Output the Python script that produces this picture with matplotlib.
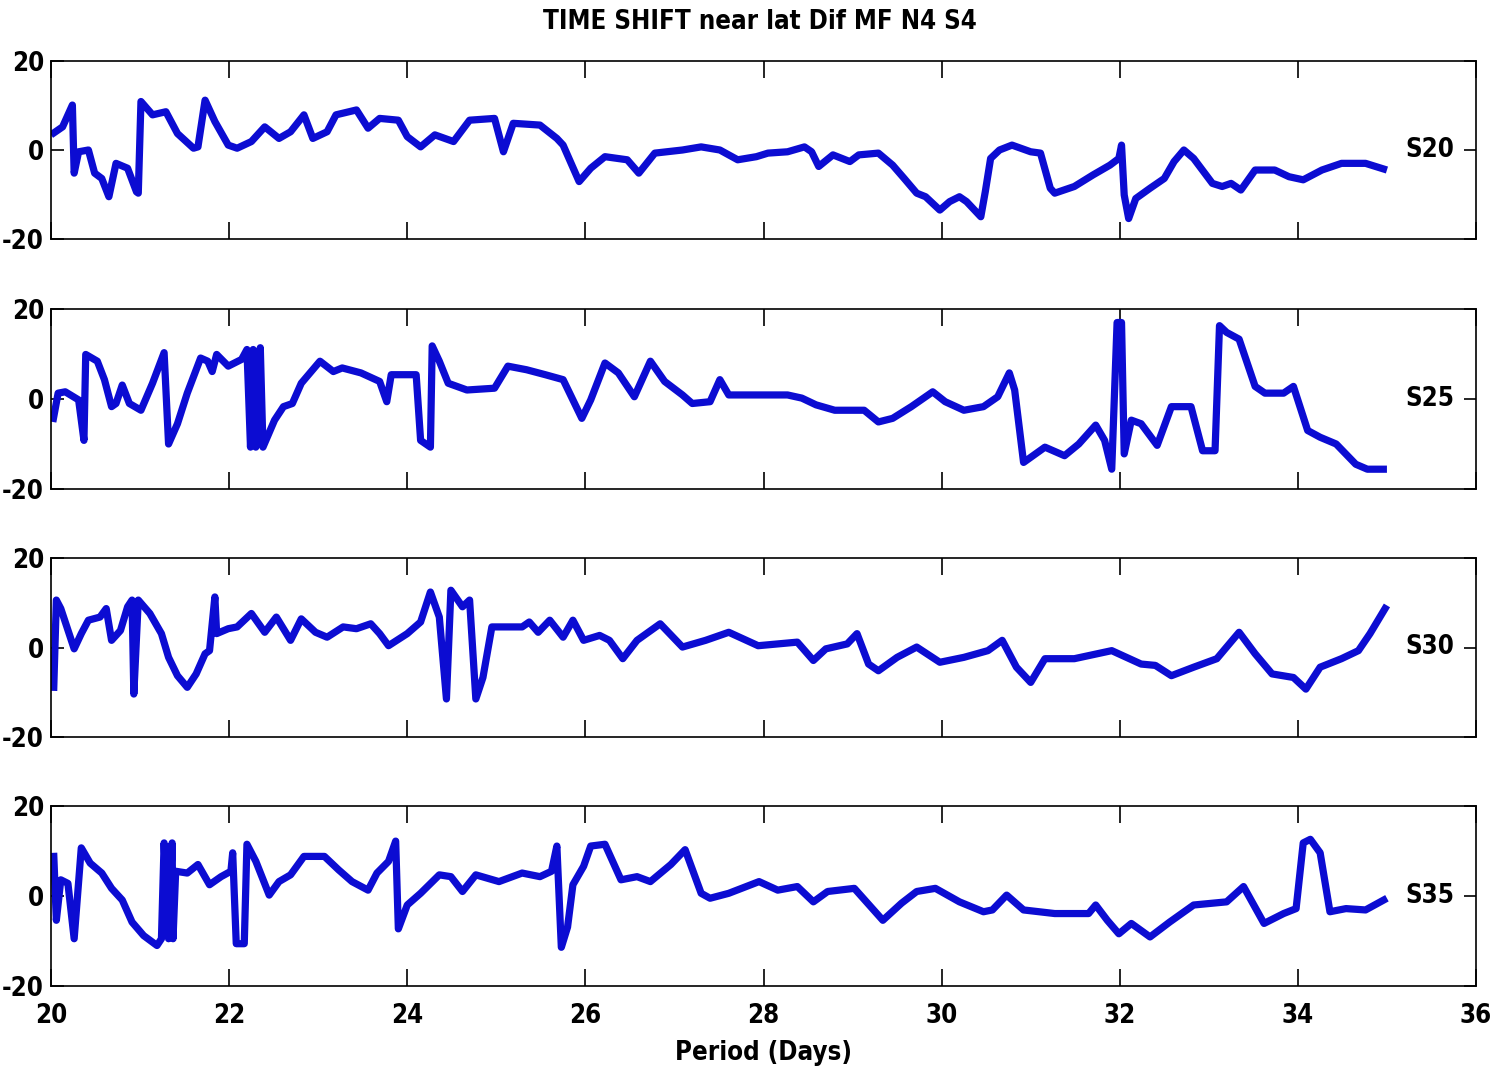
import matplotlib
matplotlib.use("Agg")
import matplotlib.pyplot as plt

# ---------------- data ----------------
s20_x = [20.0, 20.13, 20.24, 20.26, 20.31, 20.42, 20.49, 20.57, 20.65, 20.73, 20.86, 20.96, 20.98, 21.01,
         21.14, 21.29, 21.42, 21.60, 21.65, 21.73, 21.84, 21.99, 22.09, 22.25, 22.40, 22.56, 22.69, 22.84,
         22.94, 23.10, 23.20, 23.43, 23.56, 23.69, 23.90, 24.00, 24.15, 24.31, 24.52, 24.70, 24.98, 25.08,
         25.19, 25.49, 25.68, 25.75, 25.93, 26.06, 26.22, 26.47, 26.60, 26.78, 27.09, 27.30, 27.51, 27.71,
         27.92, 28.05, 28.27, 28.46, 28.54, 28.62, 28.78, 28.97, 29.07, 29.29, 29.45, 29.58, 29.72, 29.82,
         29.98, 30.09, 30.20, 30.28, 30.44, 30.49, 30.55, 30.65, 30.79, 31.00, 31.11, 31.22, 31.27, 31.49,
         31.70, 31.89, 31.99, 32.02, 32.05, 32.10, 32.18, 32.34, 32.50, 32.61, 32.72, 32.83, 33.04, 33.15,
         33.25, 33.36, 33.52, 33.74, 33.90, 34.06, 34.27, 34.49, 34.76, 35.00]
s20_y = [3.4, 5.2, 10.1, -5.2, -0.4, 0.0, -5.2, -6.4, -10.5, -3.0, -4.1, -9.4, -9.7, 10.9,
         7.9, 8.6, 3.7, 0.4, 0.7, 11.2, 6.4, 1.1, 0.4, 1.9, 5.2, 2.6, 4.1, 7.9,
         2.6, 4.1, 7.9, 9.0, 4.9, 7.1, 6.7, 3.0, 0.7, 3.4, 1.9, 6.7, 7.1, -0.4,
         6.0, 5.6, 2.6, 1.1, -7.1, -4.1, -1.5, -2.2, -5.2, -0.7, 0.0, 0.7, 0.0, -2.2,
         -1.5, -0.7, -0.4, 0.7, -0.4, -3.7, -1.1, -2.6, -1.1, -0.7, -3.4, -6.4, -9.7, -10.5,
         -13.5, -11.6, -10.5, -11.6, -15.0, -9.4, -1.9, 0.0, 1.1, -0.4, -0.7, -8.6, -9.7, -8.2,
         -5.6, -3.4, -1.9, 1.1, -10.1, -15.4, -10.9, -8.6, -6.4, -2.6, 0.0, -1.9, -7.5, -8.2,
         -7.5, -9.0, -4.5, -4.5, -6.0, -6.7, -4.5, -3.0, -3.0, -4.5]

s25_x = [20.02, 20.08, 20.16, 20.31, 20.37, 20.39, 20.52, 20.60, 20.68, 20.73, 20.80, 20.88, 21.01, 21.14,
         21.27, 21.32, 21.42, 21.53, 21.68, 21.76, 21.81, 21.86, 21.99, 22.14, 22.20, 22.24, 22.27, 22.30,
         22.35, 22.38, 22.51, 22.61, 22.71, 22.81, 23.02, 23.17, 23.27, 23.48, 23.69, 23.77, 23.82, 24.10,
         24.15, 24.26, 24.28, 24.36, 24.46, 24.67, 24.98, 25.13, 25.34, 25.55, 25.75, 25.96, 26.06, 26.22,
         26.37, 26.55, 26.73, 26.89, 27.09, 27.20, 27.40, 27.51, 27.61, 27.92, 28.27, 28.43, 28.59, 28.80,
         29.13, 29.29, 29.45, 29.66, 29.90, 30.04, 30.25, 30.47, 30.63, 30.76, 30.82, 30.92, 31.16, 31.38,
         31.54, 31.73, 31.83, 31.91, 31.97, 32.02, 32.05, 32.13, 32.24, 32.42, 32.58, 32.80, 32.93, 33.07,
         33.12, 33.20, 33.34, 33.52, 33.63, 33.84, 33.95, 34.11, 34.25, 34.43, 34.65, 34.78, 35.00]
s25_y = [-5.1, 1.3, 1.6, -0.2, -9.2, 9.9, 8.4, 4.3, -1.7, -1.0, 3.1, -1.0, -2.5, 3.5,
         10.3, -10.0, -5.5, 1.3, 9.1, 8.4, 6.1, 9.9, 7.3, 8.8, 11.0, -10.7, 11.0, -10.7,
         11.4, -10.7, -4.7, -1.7, -1.0, 3.5, 8.4, 6.1, 6.9, 5.8, 3.9, -0.6, 5.4, 5.4,
         -9.2, -10.7, 11.8, 8.4, 3.5, 2.0, 2.4, 7.3, 6.5, 5.4, 4.3, -4.3, -0.2, 8.0,
         5.8, 0.5, 8.4, 3.9, 0.9, -1.0, -0.6, 4.3, 0.9, 0.9, 0.9, 0.2, -1.3, -2.5,
         -2.5, -5.1, -4.3, -1.7, 1.6, -0.6, -2.5, -1.7, 0.5, 5.8, 2.0, -14.1, -10.7, -12.6,
         -10.0, -5.8, -9.2, -15.6, 17.0, 17.0, -12.2, -4.7, -5.5, -10.3, -1.7, -1.7, -11.5, -11.5,
         16.3, 14.8, 13.3, 2.8, 1.3, 1.3, 2.8, -7.0, -8.5, -10.0, -14.5, -15.6, -15.6]

s30_x = [20.03, 20.06, 20.11, 20.21, 20.26, 20.34, 20.42, 20.55, 20.62, 20.68, 20.78, 20.86, 20.91, 20.93,
         20.98, 21.11, 21.24, 21.32, 21.42, 21.53, 21.63, 21.73, 21.78, 21.84, 21.86, 21.99, 22.09, 22.25,
         22.40, 22.53, 22.69, 22.81, 22.97, 23.10, 23.28, 23.43, 23.59, 23.69, 23.79, 24.00, 24.15, 24.26,
         24.36, 24.44, 24.49, 24.62, 24.70, 24.77, 24.85, 24.95, 25.29, 25.37, 25.47, 25.60, 25.75, 25.86,
         25.98, 26.16, 26.27, 26.42, 26.58, 26.84, 27.09, 27.35, 27.61, 27.94, 28.38, 28.56, 28.70, 28.94,
         29.05, 29.18, 29.29, 29.50, 29.72, 29.98, 30.25, 30.52, 30.68, 30.84, 31.00, 31.16, 31.49, 31.91,
         32.24, 32.40, 32.58, 32.83, 33.09, 33.20, 33.34, 33.52, 33.71, 33.95, 34.09, 34.25, 34.49, 34.68,
         34.81, 35.00]
s30_y = [-9.7, 10.6, 8.7, 2.7, -0.3, 3.1, 6.1, 6.8, 8.7, 1.6, 3.8, 9.1, 10.6, -10.4,
         10.6, 7.6, 3.1, -2.2, -6.3, -8.9, -5.9, -1.4, -0.7, 11.3, 3.1, 4.2, 4.6, 7.6,
         3.4, 6.8, 1.6, 6.4, 3.4, 2.3, 4.6, 4.2, 5.3, 3.1, 0.4, 3.1, 5.7, 12.4,
         6.8, -11.5, 12.8, 9.1, 10.6, -11.5, -6.7, 4.6, 4.6, 5.7, 3.4, 6.1, 2.3, 6.1,
         1.6, 2.7, 1.6, -2.5, 1.6, 5.3, 0.1, 1.6, 3.4, 0.4, 1.2, -2.9, -0.3, 0.8,
         3.1, -3.7, -5.2, -2.2, 0.1, -3.3, -2.2, -0.7, 1.6, -4.4, -7.8, -2.5, -2.5, -0.7,
         -3.7, -4.0, -6.3, -4.4, -2.5, 0.1, 3.4, -1.4, -5.9, -6.7, -9.3, -4.4, -2.5, -0.7,
         3.1, 9.4]

s35_x = [20.03, 20.06, 20.11, 20.19, 20.26, 20.34, 20.44, 20.57, 20.68, 20.80, 20.91, 21.04, 21.19, 21.24,
         21.27, 21.32, 21.36, 21.37, 21.40, 21.53, 21.65, 21.78, 21.91, 22.02, 22.04, 22.08, 22.17, 22.20,
         22.30, 22.45, 22.56, 22.69, 22.84, 23.07, 23.23, 23.38, 23.56, 23.66, 23.79, 23.87, 23.90, 24.00,
         24.15, 24.36, 24.49, 24.62, 24.77, 25.03, 25.29, 25.49, 25.62, 25.68, 25.73, 25.80, 25.86, 25.98,
         26.06, 26.22, 26.40, 26.58, 26.73, 26.96, 27.12, 27.30, 27.40, 27.61, 27.95, 28.16, 28.38, 28.56,
         28.72, 29.02, 29.34, 29.55, 29.72, 29.93, 30.20, 30.47, 30.57, 30.73, 30.92, 31.27, 31.65, 31.73,
         31.86, 31.99, 32.13, 32.34, 32.56, 32.83, 33.20, 33.39, 33.62, 33.84, 33.98, 34.06, 34.14, 34.25,
         34.36, 34.54, 34.76, 35.00]
s35_y = [9.6, -5.4, 3.6, 2.8, -9.5, 10.7, 7.3, 5.1, 1.7, -0.9, -5.8, -8.8, -11.0, -9.5,
         11.8, -9.5, 11.8, -9.5, 5.5, 5.1, 7.0, 2.5, 4.3, 5.5, 9.6, -10.6, -10.6, 11.5,
         7.7, 0.2, 3.2, 4.7, 8.8, 8.8, 5.8, 3.2, 1.3, 5.1, 7.7, 12.2, -7.3, -2.0,
         0.6, 4.7, 4.3, 1.0, 4.7, 3.2, 5.1, 4.3, 5.5, 11.1, -11.4, -6.9, 2.5, 6.6,
         11.1, 11.5, 3.6, 4.3, 3.2, 7.0, 10.3, 0.6, -0.5, 0.6, 3.2, 1.3, 2.1, -1.3,
         1.0, 1.7, -5.4, -1.6, 1.0, 1.7, -1.3, -3.5, -3.1, 0.2, -3.1, -3.9, -3.9, -2.0,
         -5.4, -8.4, -6.1, -9.1, -5.8, -2.0, -1.3, 2.1, -6.1, -3.9, -2.8, 11.8, 12.6, 9.6,
         -3.5, -2.8, -3.1, -0.5]

series = [(s20_x, s20_y, "S20"), (s25_x, s25_y, "S25"), (s30_x, s30_y, "S30"), (s35_x, s35_y, "S35")]
x_ticks = [20, 22, 24, 26, 28, 30, 32, 34, 36]
y_ticks = [-20, 0, 20]
title = "TIME SHIFT near lat Dif MF N4 S4"
xlabel = "Period (Days)"

# ---------------- style ----------------
plt.rcParams["font.family"] = ["DejaVu Sans"]
plt.rcParams["font.stretch"] = "condensed"
plt.rcParams["font.weight"] = "bold"
plt.rcParams["axes.unicode_minus"] = False
FS = 18.5

fig = plt.figure(figsize=(14.96, 10.70), dpi=100)
W, H = 1496.0, 1070.0
boxes = [(61, 239), (309, 489), (558, 737), (806, 986)]
left, right = 51, 1476
line_color = "#0c0cd2"

axes = []
for i, ((top, bot), (xs, ys, lab)) in enumerate(zip(boxes, series)):
    ax = fig.add_axes([left / W, 1 - bot / H, (right - left) / W, (bot - top) / H])
    ax.plot(xs, ys, color=line_color, lw=5.2, solid_joinstyle="round", solid_capstyle="butt")
    ax.set_xlim(20, 36)
    ax.set_ylim(-20, 20)
    ax.set_xticks(x_ticks)
    ax.set_yticks(y_ticks)
    ax.tick_params(axis="x", direction="in", length=12, width=1.2, top=True, bottom=True,
                   labelsize=FS, pad=12)
    ax.tick_params(axis="y", direction="in", length=9, width=1.2, left=True, right=True,
                   labelsize=FS, pad=5)
    # only the 0 tick is marked on the right side
    for t in ax.yaxis.get_major_ticks():
        if t.get_loc() != 0:
            t.tick2line.set_visible(False)
    if i < 3:
        ax.tick_params(axis="x", labelbottom=False)
    for sp in ax.spines.values():
        sp.set_linewidth(1.2)
    ax.text((1454 - left) / (right - left), 0.5, lab, transform=ax.transAxes,
            ha="right", va="center", fontsize=FS, fontweight="bold")
    axes.append(ax)

fig.text(760 / W, 1 - 22 / H, title, ha="center", va="center", fontsize=FS, fontweight="bold")
axes[-1].set_xlabel(xlabel, fontsize=FS, fontweight="bold", labelpad=8)

fig.savefig("out.png", dpi=100)
